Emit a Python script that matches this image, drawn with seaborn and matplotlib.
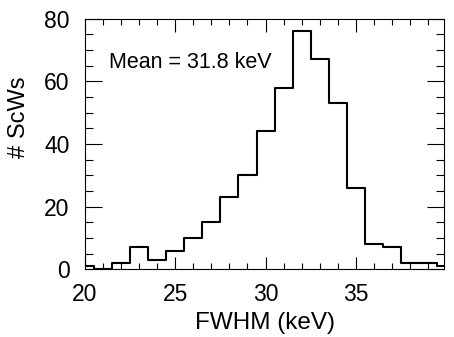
import numpy as np
import pandas as pd
import matplotlib
matplotlib.use("Agg")
import matplotlib.pyplot as plt
import seaborn as sns
from matplotlib.ticker import MultipleLocator

# Data (bin centres in keV, counts per 1-keV bin)
fwhm_centres = [20, 21, 22, 23, 24, 25, 26, 27, 28, 29, 30,
                31, 32, 33, 34, 35, 36, 37, 38, 39, 40]
counts = [1, 0, 2, 7, 3, 6, 10, 15, 23, 30, 44,
          58, 76, 67, 53, 26, 8, 7, 2, 2, 1]
bin_edges = list(np.arange(19.5, 41.0, 1.0))
x_ticks = [20, 25, 30, 35]
y_ticks = [0, 20, 40, 60, 80]
mean_label = "Mean = 31.8 keV"

sns.set_style("ticks")
plt.rcParams['font.family'] = ['Liberation Sans', 'DejaVu Sans']
plt.rcParams['text.color'] = 'black'
plt.rcParams['axes.labelcolor'] = 'black'
plt.rcParams['xtick.color'] = 'black'
plt.rcParams['ytick.color'] = 'black'

df = pd.DataFrame({"fwhm": fwhm_centres, "n": counts})

fig = plt.figure(figsize=(4.54, 3.37), dpi=100)
ax = fig.add_axes([85 / 454, 1 - 269.3 / 337, 359.3 / 454, 250.6 / 337])

sns.histplot(data=df, x="fwhm", weights="n", bins=bin_edges,
             element="step", fill=False, color="black", linewidth=1.5, ax=ax)

ax.set_xlim(20, 39.9)
ax.set_ylim(0, 80)
ax.set_xticks(x_ticks)
ax.set_yticks(y_ticks)
ax.xaxis.set_minor_locator(MultipleLocator(1))
ax.yaxis.set_minor_locator(MultipleLocator(5))

for s in ax.spines.values():
    s.set_linewidth(0.8)
    s.set_color("black")
    s.set_visible(True)

ax.tick_params(axis="x", which="major", direction="in", length=9, width=0.8,
               top=True, bottom=True, labelsize=16.5, pad=10, colors="black")
ax.tick_params(axis="x", which="minor", direction="in", length=4.5, width=0.8,
               top=True, bottom=True, colors="black")
ax.tick_params(axis="y", which="major", direction="in", length=12.5, width=0.8,
               left=True, right=True, labelsize=16.5, pad=11, colors="black")
ax.tick_params(axis="y", which="minor", direction="in", length=6, width=0.8,
               left=True, right=True, colors="black")

ax.set_xlabel("FWHM (keV)", fontsize=17.5, labelpad=4, color="black")
ax.set_ylabel("# ScWs", fontsize=17, color="black")
ax.yaxis.set_label_coords(-0.153, 0.606)

ax.text(0.068, 0.826, mean_label, transform=ax.transAxes, fontsize=15.5,
        va="center", ha="left", color="black")

fig.savefig("out.png", dpi=100, facecolor="white")
